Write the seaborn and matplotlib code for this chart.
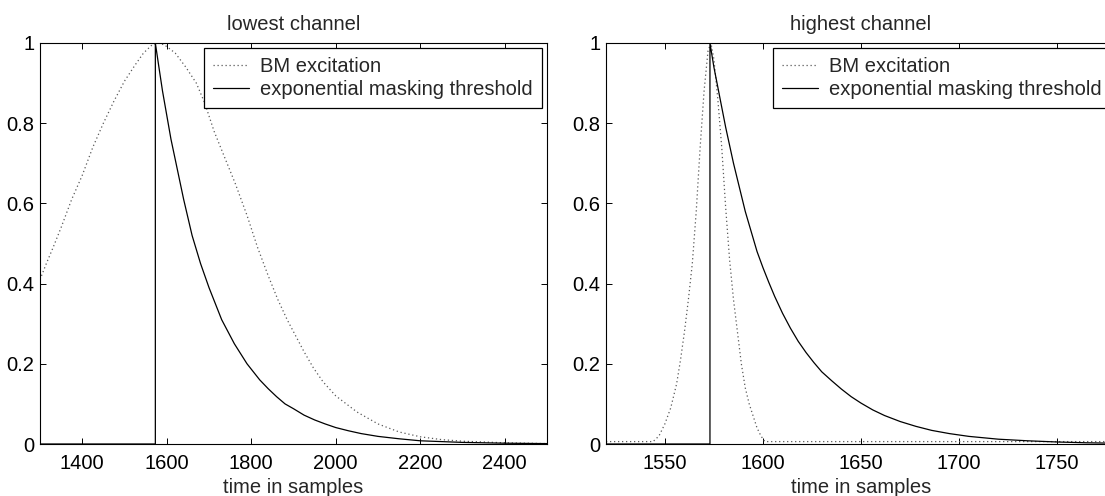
import matplotlib
matplotlib.use("Agg")
import matplotlib.pyplot as plt
import seaborn as sns
import pandas as pd

# ---------------- data ----------------
left_title = "lowest channel"
right_title = "highest channel"
x_label = "time in samples"
series_names = ["BM excitation", "exponential masking threshold"]

left_bm_x = [1300, 1315, 1331, 1350, 1375, 1400, 1425, 1450, 1475, 1500, 1525, 1545,
             1565, 1580, 1595, 1620, 1645, 1670, 1690, 1712, 1735, 1762, 1790, 1815,
             1840, 1863, 1885, 1905, 1925, 1947, 1970, 2000, 2050, 2100, 2150, 2200,
             2250, 2300, 2400, 2500]
left_bm_y = [0.41, 0.45, 0.49, 0.54, 0.61, 0.67, 0.74, 0.80, 0.855, 0.905, 0.945, 0.975,
             0.995, 1.0, 0.995, 0.975, 0.94, 0.90, 0.85, 0.78, 0.72, 0.65, 0.57, 0.49,
             0.42, 0.36, 0.31, 0.27, 0.23, 0.19, 0.155, 0.12, 0.08, 0.05, 0.03, 0.018,
             0.011, 0.007, 0.003, 0.001]

left_thr_x = [1300, 1573, 1573, 1580, 1590, 1600, 1610, 1620, 1630, 1640, 1650, 1660,
              1670, 1680, 1690, 1700, 1715, 1730, 1745, 1760, 1775, 1790, 1805, 1820,
              1840, 1860, 1880, 1900, 1925, 1950, 1975, 2000, 2030, 2060, 2100, 2150,
              2200, 2250, 2300, 2400, 2500]
left_thr_y = [0.0, 0.0, 1.0, 0.95, 0.88, 0.82, 0.76, 0.71, 0.66, 0.61, 0.565, 0.52,
              0.485, 0.45, 0.42, 0.39, 0.35, 0.31, 0.28, 0.25, 0.225, 0.20, 0.18, 0.16,
              0.138, 0.118, 0.10, 0.088, 0.072, 0.060, 0.050, 0.041, 0.033, 0.026, 0.019, 0.013,
              0.008, 0.006, 0.004, 0.002, 0.001]

right_bm_x = [1520, 1544, 1547, 1550, 1553, 1556, 1558, 1560, 1562, 1564, 1566, 1568,
              1570, 1572, 1573.5, 1575, 1577, 1579, 1581, 1583, 1585, 1587, 1589, 1591,
              1593, 1595, 1597, 1599, 1601, 1780]
right_bm_y = [0.006, 0.006, 0.02, 0.05, 0.09, 0.15, 0.21, 0.28, 0.36, 0.45, 0.58, 0.74,
              0.88, 0.98, 1.0, 0.96, 0.86, 0.74, 0.59, 0.46, 0.36, 0.28, 0.20, 0.14,
              0.10, 0.07, 0.04, 0.02, 0.006, 0.006]

right_thr_x = [1520, 1573, 1573, 1575, 1577, 1579, 1581, 1583, 1585, 1588, 1591, 1594,
               1597, 1600, 1603, 1606, 1610, 1614, 1618, 1622, 1626, 1630, 1635, 1640,
               1645, 1650, 1656, 1662, 1670, 1678, 1686, 1695, 1705, 1720, 1735, 1750,
               1765, 1780]
right_thr_y = [0.0, 0.0, 1.0, 0.94, 0.89, 0.84, 0.79, 0.745, 0.70, 0.64, 0.58, 0.53,
               0.48, 0.44, 0.403, 0.368, 0.326, 0.289, 0.256, 0.228, 0.203, 0.180, 0.158, 0.137,
               0.118, 0.102, 0.085, 0.071, 0.056, 0.044, 0.034, 0.026, 0.019, 0.012, 0.008, 0.005,
               0.003, 0.002]

left_xticks = [1400, 1600, 1800, 2000, 2200, 2400]
right_xticks = [1550, 1600, 1650, 1700, 1750]
y_ticks = [0, 0.2, 0.4, 0.6, 0.8, 1]
y_ticklabels = ["0", "0.2", "0.4", "0.6", "0.8", "1"]
left_xlim = (1300, 2500)
right_xlim = (1520, 1780)

# ---------------- style ----------------
sns.set_theme(style="white")
plt.rcParams["font.family"] = ["Liberation Sans", "DejaVu Sans"]
plt.rcParams.update({
    "axes.edgecolor": "black",
    "axes.linewidth": 0.8,
    "xtick.direction": "in",
    "ytick.direction": "in",
    "xtick.top": True,
    "ytick.right": True,
    "xtick.major.size": 4,
    "ytick.major.size": 4,
    "xtick.major.width": 0.7,
    "ytick.major.width": 0.7,
    "xtick.bottom": True,
    "ytick.left": True,
})

FS = 14.5
W, H = 1105, 496
fig = plt.figure(figsize=(W / 100, H / 100), dpi=100)
ax_l = fig.add_axes([40 / W, (H - 444) / H, 507 / W, 401 / H])
ax_r = fig.add_axes([606 / W, (H - 444) / H, 510 / W, 401 / H])

dot_style = dict(color="0.35", linewidth=0.9, linestyle=(0, (1, 2.2)))
sol_style = dict(color="black", linewidth=0.9, linestyle="-")

panels = [
    (ax_l, left_bm_x, left_bm_y, left_thr_x, left_thr_y, left_xticks, left_xlim, left_title),
    (ax_r, right_bm_x, right_bm_y, right_thr_x, right_thr_y, right_xticks, right_xlim, right_title),
]

for ax, bx, by, tx, ty, xt, xl, title in panels:
    df_b = pd.DataFrame({"t": bx, "v": by})
    df_t = pd.DataFrame({"t": tx, "v": ty})
    sns.lineplot(data=df_b, x="t", y="v", ax=ax, estimator=None, sort=False,
                 label=series_names[0], **dot_style)
    sns.lineplot(data=df_t, x="t", y="v", ax=ax, estimator=None, sort=False,
                 label=series_names[1], **sol_style)
    ax.set_xlim(*xl)
    ax.set_ylim(0, 1)
    ax.set_xticks(xt)
    ax.set_xticklabels([str(v) for v in xt], fontsize=FS)
    ax.set_yticks(y_ticks)
    ax.set_yticklabels(y_ticklabels, fontsize=FS)
    ax.tick_params(axis="x", pad=7, colors="black")
    ax.tick_params(axis="y", pad=4, colors="black")
    ax.set_xlabel(x_label, fontsize=FS, labelpad=4)
    ax.set_ylabel("")
    ax.set_title(title, fontsize=FS, pad=9)
    for s in ax.spines.values():
        s.set_visible(True)
        s.set_color("black")
    leg = ax.legend(loc="upper right", fontsize=FS, frameon=True, fancybox=False,
                    framealpha=1, edgecolor="black", borderaxespad=0.25,
                    handlelength=1.8, handletextpad=0.55, labelspacing=0.2,
                    borderpad=0.45)
    leg.get_frame().set_linewidth(0.9)

fig.savefig("out.png", dpi=100)
